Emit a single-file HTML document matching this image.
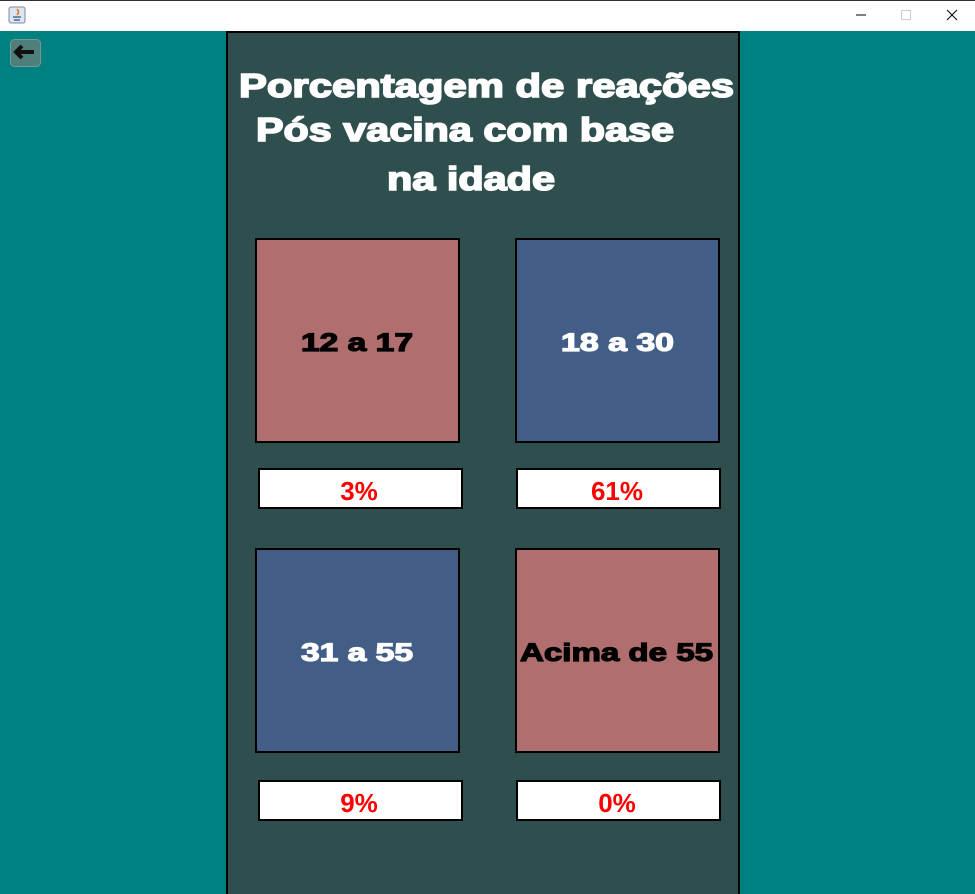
<!DOCTYPE html>
<html><head><meta charset="utf-8"><style>
html,body{margin:0;padding:0;width:975px;height:894px;overflow:hidden;background:#008080;font-family:"Liberation Sans",Arial,sans-serif}
svg{display:block}
</style></head><body>
<svg width="975" height="894" viewBox="0 0 975 894">
<rect x="0" y="0" width="975" height="31" fill="#fff"/>
<rect x="0" y="0" width="975" height="1" fill="#333"/>
<g><rect x="9" y="7" width="16" height="16" rx="2" fill="#dde6f0" stroke="#7a8aa0"/><path d="M13 17h8M14 20h6" stroke="#4a6a9a" stroke-width="1.5"/><path d="M17 9q3 3 0 6" stroke="#e07020" fill="none" stroke-width="1.5"/></g>
<g><path d="M856 15h10" stroke="#000"/></g>
<g><rect x="901.5" y="10.5" width="9" height="9" fill="none" stroke="#ccc"/></g>
<g><path d="M947 10l10 10M957 10l-10 10" stroke="#000"/></g>
<g><rect x="10.5" y="39.5" width="30" height="27" rx="4" fill="#4f7f7a" stroke="#6f9a95"/><path d="M16 52h18M22 46l-6 6 6 6" stroke="#111" stroke-width="4" fill="none"/></g>
<rect x="227" y="32" width="512" height="864" fill="#2f4f4f" stroke="#000" stroke-width="2"/>
<g fill="#fff" stroke="#fff" stroke-width="1.6" font-weight="bold" font-size="33">
<text x="239" y="97" textLength="495" lengthAdjust="spacingAndGlyphs">Porcentagem de reações</text>
<text x="256" y="141" textLength="418" lengthAdjust="spacingAndGlyphs">Pós vacina com base</text>
<text x="387" y="190" textLength="168" lengthAdjust="spacingAndGlyphs">na idade</text>
</g>
<g><rect x="256" y="239" width="203" height="203" fill="#b06e6e" stroke="#000" stroke-width="2"/><text x="301" y="351" font-size="25" font-weight="bold" fill="#000" stroke="#000" stroke-width="1.2" textLength="112" lengthAdjust="spacingAndGlyphs">12 a 17</text></g>
<g><rect x="516" y="239" width="203" height="203" fill="#425d86" stroke="#000" stroke-width="2"/><text x="561" y="351" font-size="25" font-weight="bold" fill="#fff" stroke="#fff" stroke-width="1.2" textLength="113" lengthAdjust="spacingAndGlyphs">18 a 30</text></g>
<g><rect x="256" y="549" width="203" height="203" fill="#425d86" stroke="#000" stroke-width="2"/><text x="301" y="661" font-size="25" font-weight="bold" fill="#fff" stroke="#fff" stroke-width="1.2" textLength="112" lengthAdjust="spacingAndGlyphs">31 a 55</text></g>
<g><rect x="516" y="549" width="203" height="203" fill="#b06e6e" stroke="#000" stroke-width="2"/><text x="520" y="661" font-size="25" font-weight="bold" fill="#000" stroke="#000" stroke-width="1.2" textLength="193" lengthAdjust="spacingAndGlyphs">Acima de 55</text></g>
<g font-size="26" font-weight="bold" fill="#f00" text-anchor="middle">
<g><rect x="259" y="469" width="203" height="39" fill="#fff" stroke="#000" stroke-width="2"/><text x="359" y="500">3%</text></g>
<g><rect x="517" y="469" width="203" height="39" fill="#fff" stroke="#000" stroke-width="2"/><text x="617" y="500">61%</text></g>
<g><rect x="259" y="781" width="203" height="39" fill="#fff" stroke="#000" stroke-width="2"/><text x="359" y="812">9%</text></g>
<g><rect x="517" y="781" width="203" height="39" fill="#fff" stroke="#000" stroke-width="2"/><text x="617" y="812">0%</text></g>
</g>
</svg>
</body></html>
